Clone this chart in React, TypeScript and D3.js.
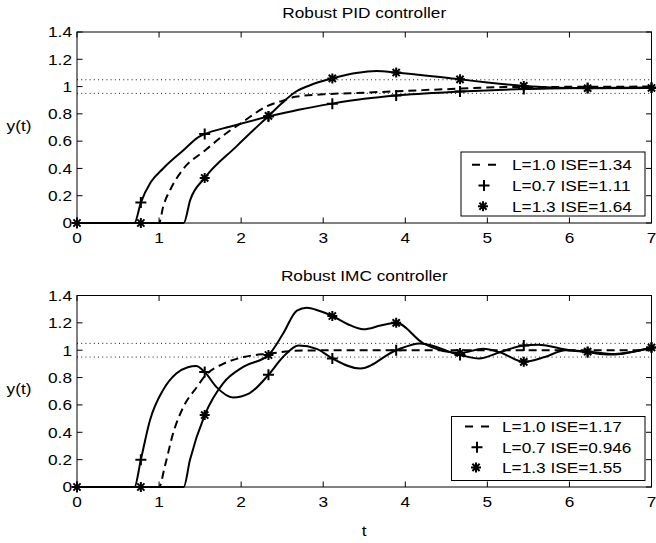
import React from "react";
import * as d3 from "d3";

// ---------- data ----------
const X_TICKS = [0, 1, 2, 3, 4, 5, 6, 7];
const Y_TICKS = [0, 0.2, 0.4, 0.6, 0.8, 1, 1.2, 1.4];
const BAND = [0.95, 1.05];
const MARKER_T = [0, 0.778, 1.556, 2.333, 3.111, 3.889, 4.667, 5.444, 6.222, 7.0];

// Robust PID controller
const pidL10T = [0, 1.0, 1.05, 1.15, 1.3, 1.556, 1.78, 2.03, 2.31, 2.5, 2.66, 3.0, 3.5, 3.9, 4.68, 5.2, 6.0, 7.0];
const pidL10Y = [0, 0, 0.12, 0.26, 0.4, 0.53, 0.64, 0.745, 0.855, 0.895, 0.925, 0.943, 0.955, 0.966, 0.985, 0.996, 0.998, 1.0];
const pidL07T = [0, 0.7, 0.778, 0.9, 1.05, 1.3, 1.48, 1.556, 1.86, 2.333, 2.7, 3.111, 3.5, 3.889, 4.667, 5.444, 6.222, 7.0];
const pidL07Y = [0, 0, 0.15, 0.3, 0.4, 0.535, 0.63, 0.652, 0.706, 0.78, 0.83, 0.875, 0.91, 0.935, 0.963, 0.982, 0.99, 0.993];
const pidL13T = [0, 0.778, 1.3, 1.38, 1.556, 1.94, 2.333, 2.5, 2.66, 2.84, 3.111, 3.4, 3.65, 3.889, 4.667, 5.0, 5.444, 6.222, 7.0];
const pidL13Y = [0, 0, 0, 0.17, 0.33, 0.56, 0.785, 0.88, 0.96, 1.01, 1.06, 1.1, 1.115, 1.103, 1.053, 1.03, 1.005, 0.988, 0.99];

// Robust IMC controller
const imcL10T = [0, 1.0, 1.07, 1.17, 1.3, 1.46, 1.556, 1.78, 2.03, 2.333, 2.76, 3.5, 7.0];
const imcL10Y = [0, 0, 0.15, 0.39, 0.59, 0.73, 0.81, 0.9, 0.95, 0.975, 0.998, 1.0, 1.0];
const imcL07T = [0, 0.7, 0.778, 0.89, 1.05, 1.21, 1.35, 1.45, 1.556, 1.7, 1.9, 2.1, 2.333, 2.51, 2.7, 2.92, 3.111, 3.45, 3.889, 4.18, 4.667, 4.9, 5.15, 5.444, 5.62, 6.0, 6.222, 6.5, 7.0];
const imcL07Y = [0, 0, 0.2, 0.49, 0.71, 0.83, 0.875, 0.885, 0.84, 0.73, 0.655, 0.685, 0.82, 0.95, 1.035, 1.01, 0.94, 0.866, 1.0, 1.05, 0.965, 0.94, 0.985, 1.035, 1.04, 1.0, 0.985, 0.968, 1.02];
const imcL13T = [0, 0.778, 1.3, 1.376, 1.556, 1.78, 2.03, 2.333, 2.51, 2.68, 2.8, 2.94, 3.111, 3.3, 3.49, 3.7, 3.889, 4.22, 4.667, 4.95, 5.15, 5.444, 5.7, 5.95, 6.222, 6.55, 7.0];
const imcL13Y = [0, 0, 0, 0.197, 0.526, 0.758, 0.88, 0.965, 1.12, 1.29, 1.31, 1.29, 1.25, 1.19, 1.153, 1.18, 1.2, 1.05, 0.98, 1.01, 0.985, 0.915, 0.95, 1.0, 0.99, 0.972, 1.02];

const pidLegend = ["L=1.0 ISE=1.34", "L=0.7 ISE=1.11", "L=1.3 ISE=1.64"];
const imcLegend = ["L=1.0 ISE=1.17", "L=0.7 ISE=0.946", "L=1.3 ISE=1.55"];

// ---------- layout ----------
const W = 656;
const H = 543;
const LEFT = 77;
const RIGHT = 651.5;
const SX = 1.15;
const FONT = "'Liberation Sans', Arial, Helvetica, sans-serif";
const FS = 15;

const zip = (t: number[], y: number[]) => t.map((v, i) => [v, y[i]] as [number, number]);

function Txt({ x, y, anchor = "start", children }: any) {
  return (
    <text
      transform={`translate(${x},${y}) scale(${SX},1)`}
      textAnchor={anchor}
      fontSize={FS}
      fontFamily={FONT}
      fill="#000"
    >
      {children}
    </text>
  );
}

function Plus({ x, y, r = 5.5 }: any) {
  return <path d={`M${x - r},${y}H${x + r}M${x},${y - r}V${y + r}`} stroke="#000" strokeWidth={2} fill="none" />;
}
function Star({ x, y, r = 5 }: any) {
  const d = r * 0.72;
  return (
    <path
      d={`M${x - r},${y}H${x + r}M${x},${y - r}V${y + r}M${x - d},${y - d}L${x + d},${y + d}M${x - d},${y + d}L${x + d},${y - d}`}
      stroke="#000"
      strokeWidth={2}
      fill="none"
    />
  );
}

function Panel({ top, bottom, title, series, legend, legendBox, showT }: any) {
  const x = d3.scaleLinear().domain([0, 7]).range([LEFT, RIGHT]);
  const y = d3.scaleLinear().domain([0, 1.4]).range([bottom, top]);
  const line = d3
    .line<[number, number]>()
    .x((d) => x(d[0]))
    .y((d) => y(d[1]))
    .curve(d3.curveMonotoneX);
  const tick = 5.5;
  const [lx, ly, lw, lh, textX, symX, rows] = legendBox;
  return (
    <g>
      <Txt x={(LEFT + RIGHT) / 2} y={top - 14.5} anchor="middle">{title}</Txt>
      <Txt x={19} y={(top + bottom) / 2 + 3} anchor="middle">y(t)</Txt>
      {BAND.map((b) => (
        <line key={b} x1={x(0)} x2={x(7)} y1={y(b)} y2={y(b)} stroke="#000" strokeWidth={0.9} strokeDasharray="1 3.2" />
      ))}
      {series.map((s: any, i: number) => (
        <path
          key={i}
          d={line(zip(s.t, s.y)) as string}
          fill="none"
          stroke="#000"
          strokeWidth={2}
          strokeDasharray={s.dash ? "8 5" : undefined}
        />
      ))}
      {series.map((s: any, i: number) =>
        s.marker
          ? s.t.map((tv: number, j: number) =>
              MARKER_T.some((m) => Math.abs(m - tv) < 1e-3) ? (
                s.marker === "plus" ? (
                  <Plus key={`${i}-${j}`} x={x(tv)} y={y(s.y[j])} />
                ) : (
                  <Star key={`${i}-${j}`} x={x(tv)} y={y(s.y[j])} />
                )
              ) : null
            )
          : null
      )}
      <rect x={LEFT} y={top} width={RIGHT - LEFT} height={bottom - top} fill="none" stroke="#000" strokeWidth={1} />
      {X_TICKS.map((t) => (
        <g key={"x" + t}>
          <line x1={x(t)} x2={x(t)} y1={bottom} y2={bottom - tick} stroke="#000" />
          <line x1={x(t)} x2={x(t)} y1={top} y2={top + tick} stroke="#000" />
          <Txt x={x(t)} y={bottom + 20} anchor="middle">{t}</Txt>
        </g>
      ))}
      {Y_TICKS.map((v) => (
        <g key={"y" + v}>
          <line x1={LEFT} x2={LEFT + tick} y1={y(v)} y2={y(v)} stroke="#000" />
          <line x1={RIGHT} x2={RIGHT - tick} y1={y(v)} y2={y(v)} stroke="#000" />
          <Txt x={LEFT - 5} y={y(v) + 5.3} anchor="end">{String(v)}</Txt>
        </g>
      ))}
      <rect x={lx} y={ly} width={lw} height={lh} fill="#fff" stroke="#000" strokeWidth={1} />
      {legend.map((lab: string, i: number) => {
        const by = rows[i];
        const cy = by - 5.3;
        return (
          <g key={lab}>
            {i === 0 && (
              <line x1={symX - 12} x2={symX + 12} y1={cy} y2={cy} stroke="#000" strokeWidth={2} strokeDasharray="8 8" />
            )}
            {i === 1 && <Plus x={symX} y={cy} />}
            {i === 2 && <Star x={symX - 1} y={cy} />}
            <Txt x={textX} y={by}>{lab}</Txt>
          </g>
        );
      })}
      {showT && <Txt x={(LEFT + RIGHT) / 2} y={536} anchor="middle">t</Txt>}
    </g>
  );
}

export default function App() {
  const pidSeries = [
    { t: pidL10T, y: pidL10Y, dash: true },
    { t: pidL07T, y: pidL07Y, marker: "plus" },
    { t: pidL13T, y: pidL13Y, marker: "star" },
  ];
  const imcSeries = [
    { t: imcL10T, y: imcL10Y, dash: true },
    { t: imcL07T, y: imcL07Y, marker: "plus" },
    { t: imcL13T, y: imcL13Y, marker: "star" },
  ];
  return (
    <svg width={W} height={H} style={{ position: "absolute", left: 0, top: 0, background: "#fff" }}>
      <rect width={W} height={H} fill="#fff" />
      <Panel
        top={32}
        bottom={223}
        title="Robust PID controller"
        series={pidSeries}
        legend={pidLegend}
        legendBox={[461, 152, 184, 64, 512, 484, [170, 190.8, 211.5]]}
      />
      <Panel
        top={295.5}
        bottom={487}
        title="Robust IMC controller"
        series={imcSeries}
        legend={imcLegend}
        legendBox={[451.5, 416.5, 193.5, 64, 502, 477, [431.7, 452.5, 472.7]]}
        showT
      />
    </svg>
  );
}
